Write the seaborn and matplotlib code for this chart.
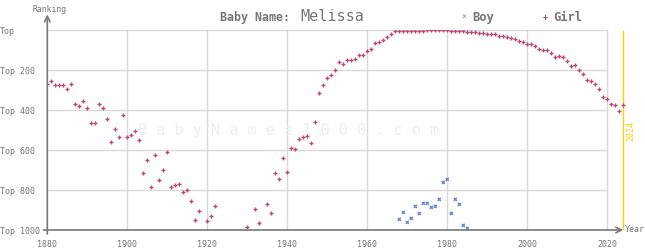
import matplotlib
matplotlib.use("Agg")
import matplotlib.pyplot as plt
import seaborn as sns
import pandas as pd

# ---- data ----
girl_years = (list(range(1880, 1919)) + [1920, 1921, 1922, 1930, 1932, 1933]
              + list(range(1935, 2025)))
girl_ranks = [272, 257, 277, 277, 277, 297, 272, 372, 382, 357, 392, 467, 467, 372, 392,
              447, 562, 497, 537, 427, 537, 527, 507, 552, 717, 652, 787, 627, 752, 702,
              612, 787, 777, 772, 812, 802, 857, 952, 907,
              957, 932, 882, 987, 897, 967,
              872, 917, 717, 747, 642, 712, 592, 597, 547, 537, 532, 567, 462, 317, 277,
              242, 227, 202, 162, 172, 152, 152, 147, 127, 127, 107, 97, 67, 62, 52,
              37, 22, 6, 6, 6, 6, 6, 6, 6, 6, 2, 2, 2, 2, 2, 2,
              6, 6, 6, 6, 11, 11, 11, 17, 17, 22, 22, 22, 32, 32, 37, 42, 47, 57, 62,
              72, 72, 82, 97, 102, 102, 117, 137, 132, 137, 157, 182, 177, 202, 222,
              252, 257, 272, 297, 337, 347, 372, 377, 407, 377]
boy_years = list(range(1968, 1986))
boy_ranks = [947, 912, 962, 942, 882, 917, 867, 867, 887, 882, 847, 762, 747, 917,
             847, 872, 977, 992]

x_ticks = [1880, 1900, 1920, 1940, 1960, 1980, 2000, 2020]
y_ticks = [0, 200, 400, 600, 800, 1000]
y_labels = ["Top", "Top 200", "Top 400", "Top 600", "Top 800", "Top 1000"]

df = pd.DataFrame({
    "year": girl_years + boy_years,
    "rank": girl_ranks + boy_ranks,
    "sex": ["Girl"] * len(girl_years) + ["Boy"] * len(boy_years),
})

# ---- style ----
sns.set_style("white")
plt.rcParams["font.family"] = ["DejaVu Sans Mono", "DejaVu Sans"]

GIRL = "#b84a78"
BOY = "#6f88c8"
GRAY = "#777777"
GRID = "#d9d9d9"
YEL = "#f5d200"

W, H = 645, 250
fig = plt.figure(figsize=(W / 100, H / 100), dpi=100)
ax_left, ax_bottom, ax_w, ax_h = 47.3, 20, 584, 200
ax = fig.add_axes([ax_left / W, ax_bottom / H, ax_w / W, ax_h / H])
ax.set_xlim(1880, 2026)
ax.set_ylim(1000, 0)

# grid
for yv in [0, 200, 400, 600, 800]:
    ax.hlines(yv, 1880, 2020, color=GRID, lw=1, zorder=0)
for xv in x_ticks[1:]:
    ax.vlines(xv, 0, 1000, color=GRID, lw=1, zorder=0)

# watermark
ax.text(1940.3, 505, " ".join("BabyNames1000.com"), color="#eeeeee", fontsize=11,
        ha="center", va="center", zorder=0.5)

# current year line
ax.vlines(2024, 0, 1000, color=YEL, lw=1, zorder=1)
ax.text(2025.9, 505, "2024", color=YEL, fontsize=6, rotation=90,
        ha="center", va="center")

sns.scatterplot(data=df, x="year", y="rank", hue="sex", style="sex",
                palette={"Girl": GIRL, "Boy": BOY},
                markers={"Girl": "+", "Boy": "x"},
                size="sex", sizes={"Girl": 8, "Boy": 5},
                linewidth=1.0, legend=False, ax=ax, zorder=3)

for sp in ax.spines.values():
    sp.set_visible(False)

# axes with arrows
ax.annotate("", xy=(2024, 1000), xytext=(1879, 1000),
            arrowprops=dict(arrowstyle="->", color=GRAY, lw=1.2,
                            shrinkA=0, shrinkB=0), annotation_clip=False)
ax.annotate("", xy=(1880, -78), xytext=(1880, 1020),
            arrowprops=dict(arrowstyle="->", color=GRAY, lw=1.2,
                            shrinkA=0, shrinkB=0), annotation_clip=False)

ax.set_xticks(x_ticks)
ax.set_xticklabels([str(v) for v in x_ticks])
ax.set_yticks(y_ticks)
ax.set_yticklabels(y_labels)
for lab in ax.get_yticklabels():
    lab.set_horizontalalignment("left")
ax.tick_params(axis="y", length=0, pad=34, labelsize=6, labelcolor=GRAY)
ax.tick_params(axis="x", length=0, pad=7, labelsize=6, labelcolor=GRAY)
ax.set_xlabel("")
ax.set_ylabel("")

# labels
fig.text(32.5 / W, 1 - 9 / H, "Ranking", fontsize=5.8, color=GRAY, ha="left", va="center")
fig.text(625 / W, 1 - 230 / H, "Year", fontsize=6, color=GRAY, ha="left", va="center")

# title
fig.text(219.6 / W, 1 - 17 / H, "Baby Name:", fontsize=8.4, fontweight="bold",
         color=GRAY, ha="left", va="center")
fig.text(300 / W, 1 - 16.5 / H, "Melissa", fontsize=10.9, color=GRAY,
         ha="left", va="center")

# legend
fig.text(464 / W, 1 - 17 / H, "×", fontsize=6, color=BOY, ha="center", va="center")
fig.text(472 / W, 1 - 17 / H, "Boy", fontsize=8.7, fontweight="bold", color=GRAY,
         ha="left", va="center")
fig.text(545 / W, 1 - 17 / H, "+", fontsize=6, fontweight="bold", color=GIRL,
         ha="center", va="center")
fig.text(553 / W, 1 - 17 / H, "Girl", fontsize=8.7, fontweight="bold", color=GRAY,
         ha="left", va="center")

fig.savefig("out.png", dpi=100)
